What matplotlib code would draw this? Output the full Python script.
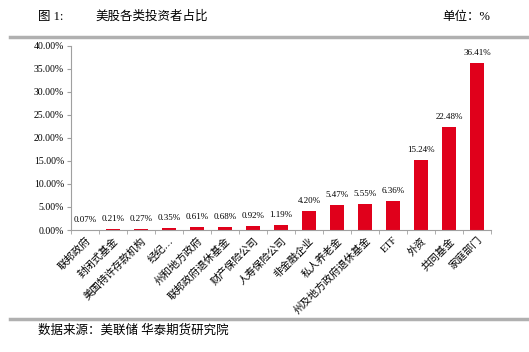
import matplotlib.pyplot as plt
from matplotlib.lines import Line2D
from matplotlib.ticker import FixedLocator, NullFormatter

plt.rcParams['font.family'] = ['Liberation Serif', 'Noto Sans CJK SC']

# 美股各类投资者占比
categories = ["联邦政府", "封闭式基金", "美国特许存款机构", "经纪…", "州和地方政府",
              "联邦政府退休基金", "财产保险公司", "人寿保险公司", "非金融企业", "私人养老金",
              "州及地方政府退休基金", "ETF", "外资", "共同基金", "家庭部门"]
values = [0.07, 0.21, 0.27, 0.35, 0.61, 0.68, 0.92, 1.19, 4.20, 5.47, 5.55, 6.36,
          15.24, 22.48, 36.41]
yticks = [0, 5, 10, 15, 20, 25, 30, 35, 40]

fig = plt.figure(figsize=(5.29, 3.52), dpi=100)
ax = fig.add_axes([71 / 529, 122 / 352, 420 / 529, 184 / 352])

x = range(len(categories))
ax.bar(x, values, width=0.5, color="#E0001B")
for i, v in zip(x, values):
    ax.text(i, v + 1.3, f"{v:.2f}%", ha="center", va="bottom", fontsize=6.5)

ax.set_xlim(-0.5, len(categories) - 0.5)
ax.set_ylim(0, 40)
ax.set_yticks(yticks)
ax.set_yticklabels([f"{t:.2f}%" for t in yticks], fontsize=7)
ax.set_xticks(list(x))
ax.set_xticklabels(categories, rotation=45, ha="right", rotation_mode="anchor", fontsize=7.5)
ax.tick_params(axis="x", length=0, pad=4)
ax.xaxis.set_minor_locator(FixedLocator([i - 0.5 for i in range(len(categories) + 1)]))
ax.xaxis.set_minor_formatter(NullFormatter())
ax.tick_params(axis="x", which="minor", length=3, color="#A0A0A0")
ax.tick_params(axis="y", length=3, color="#A0A0A0", pad=2)
for s in ["top", "right"]:
    ax.spines[s].set_visible(False)
for s in ["left", "bottom"]:
    ax.spines[s].set_color("#A0A0A0")

# header / footer
fig.text(38 / 529, 1 - 17 / 352, "图 1:", fontsize=9, va="center")
fig.text(95 / 529, 1 - 17 / 352, "美股各类投资者占比", fontsize=9, va="center")
fig.text(490 / 529, 1 - 17 / 352, "单位：%", fontsize=9, va="center", ha="right")
fig.add_artist(Line2D([10 / 529, 1], [1 - 37 / 352] * 2, color="#B0B0B0", lw=2.5))
fig.add_artist(Line2D([10 / 529, 1], [1 - 319 / 352] * 2, color="#B0B0B0", lw=2.5))
fig.text(38 / 529, 1 - 331 / 352, "数据来源：美联储 华泰期货研究院", fontsize=9, va="center")

fig.savefig("out.png", dpi=100)
